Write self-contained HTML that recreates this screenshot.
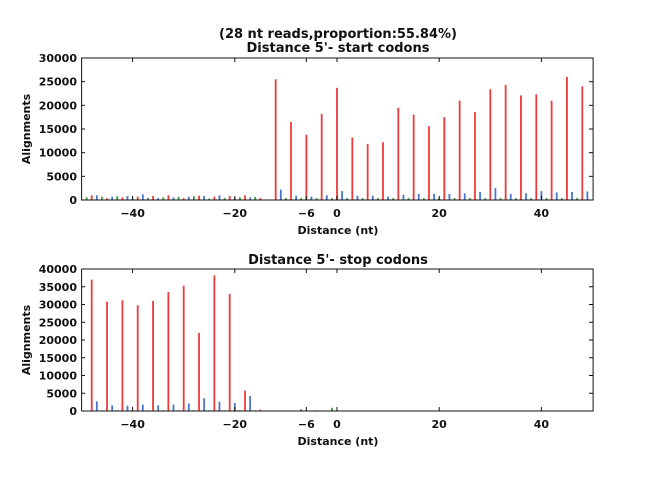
<!DOCTYPE html>
<html><head><style>
body{margin:0;background:#fff;width:650px;height:483px;overflow:hidden}
text{font-family:"DejaVu Sans","Liberation Sans",sans-serif;fill:#111;font-weight:bold}
</style></head><body>
<svg id="s" width="650" height="483" xmlns="http://www.w3.org/2000/svg">
<text x="338" y="38" font-size="13" text-anchor="middle">(28 nt reads,proportion:55.84%)</text>
<text x="338" y="52" font-size="13" text-anchor="middle">Distance 5'- start codons</text>
<text x="338" y="264" font-size="13" text-anchor="middle">Distance 5'- stop codons</text>
</svg>
<script>
const s=document.getElementById('s');const NS='http://www.w3.org/2000/svg';
function el(t,a,txt){const e=document.createElementNS(NS,t);for(const k in a)e.setAttribute(k,a[k]);if(txt!==undefined)e.textContent=txt;s.appendChild(e);return e;}
const X=v=>337+v*5.11;
function panel(top,bot,ymax,step,red,blue,green){
 const Y=v=>bot-(bot-top)*v/ymax;
 for(let x=-50;x<=49;x++){
  let r=red[x]||0,b=blue[x]||0,g=green[x]||0;
  if(r)el('rect',{x:X(x)-0.9,y:Y(r),width:1.8,height:bot-Y(r),fill:'#f03a3a'});
  if(b)el('rect',{x:X(x)-0.9,y:Y(b),width:1.8,height:bot-Y(b),fill:'#4a76cc'});
  if(g)el('rect',{x:X(x)-0.9,y:Y(g),width:1.8,height:bot-Y(g),fill:'#3a9a3a'});
 }
 el('rect',{x:81.6,y:top,width:511.5,height:bot-top,fill:'none',stroke:'#111','stroke-width':1});
 for(let v=0;v<=ymax;v+=step){el('line',{x1:81.6,x2:85,y1:Y(v),y2:Y(v),stroke:'#111'});el('line',{x1:589,x2:593,y1:Y(v),y2:Y(v),stroke:'#111'});
  el('text',{x:77,y:Y(v)+4,'font-size':11,'text-anchor':'end'},v);}
 for(const t of [-40,-20,-6,0,20,40]){el('line',{x1:X(t),x2:X(t),y1:bot,y2:bot-4,stroke:'#111'});el('line',{x1:X(t),x2:X(t),y1:top,y2:top+4,stroke:'#111'});
  el('text',{x:X(t),y:bot+17,'font-size':11,'text-anchor':'middle'},t<0?'\u2212'+(-t):t);}
 el('text',{x:338,y:bot+34,'font-size':11,'text-anchor':'middle'},'Distance (nt)');
 el('text',{x:0,y:0,'font-size':11,'text-anchor':'middle',transform:`translate(30,${(top+bot)/2}) rotate(-90)`},'Alignments');
}
let r={},b={},g={};
for(let x=-49;x<-14;x++){const m=((x%3)+3)%3;const v=400+((x*37)%5+5)%5*150;if(m==0)r[x]=v;else if(m==1)b[x]=v;else g[x]=v*0.8;}
b[-38]=1200;b[-47]=1000;r[-27]=900;
const tr=[25500,16500,13800,18200,23700,13200,11800,12200,19500,18000,15600,17500,21000,18600,23400,24300,22100,22300,21000,26000,24000];
const tb=[2200,900,700,1000,1900,900,900,700,1100,1300,1300,1300,1400,1700,2500,1300,1400,1900,1600,1700,1800,2000];
tr.forEach((v,i)=>{const x=-12+3*i;r[x]=v;b[x+1]=tb[i]||1200;g[x+2]=400;});
panel(58,200,30000,5000,r,b,g);
r={};b={};g={};
const br=[37000,30800,31200,29800,31000,33500,35300,22000,38200,33000,5700];
const bb=[2700,1600,1500,1800,1600,1800,2100,3600,2600,2300,4200];
br.forEach((v,i)=>{const x=-48+3*i;r[x]=v;b[x+1]=bb[i];g[x+2]=200;});
r[-15]=400;g[-7]=500;g[-1]=900;g[-4]=200;
for(let x=-14;x<50;x++){if(!g[x]&&x%3==0)g[x]=150;}
panel(269,411,40000,5000,r,b,g);
</script>
</body></html>
